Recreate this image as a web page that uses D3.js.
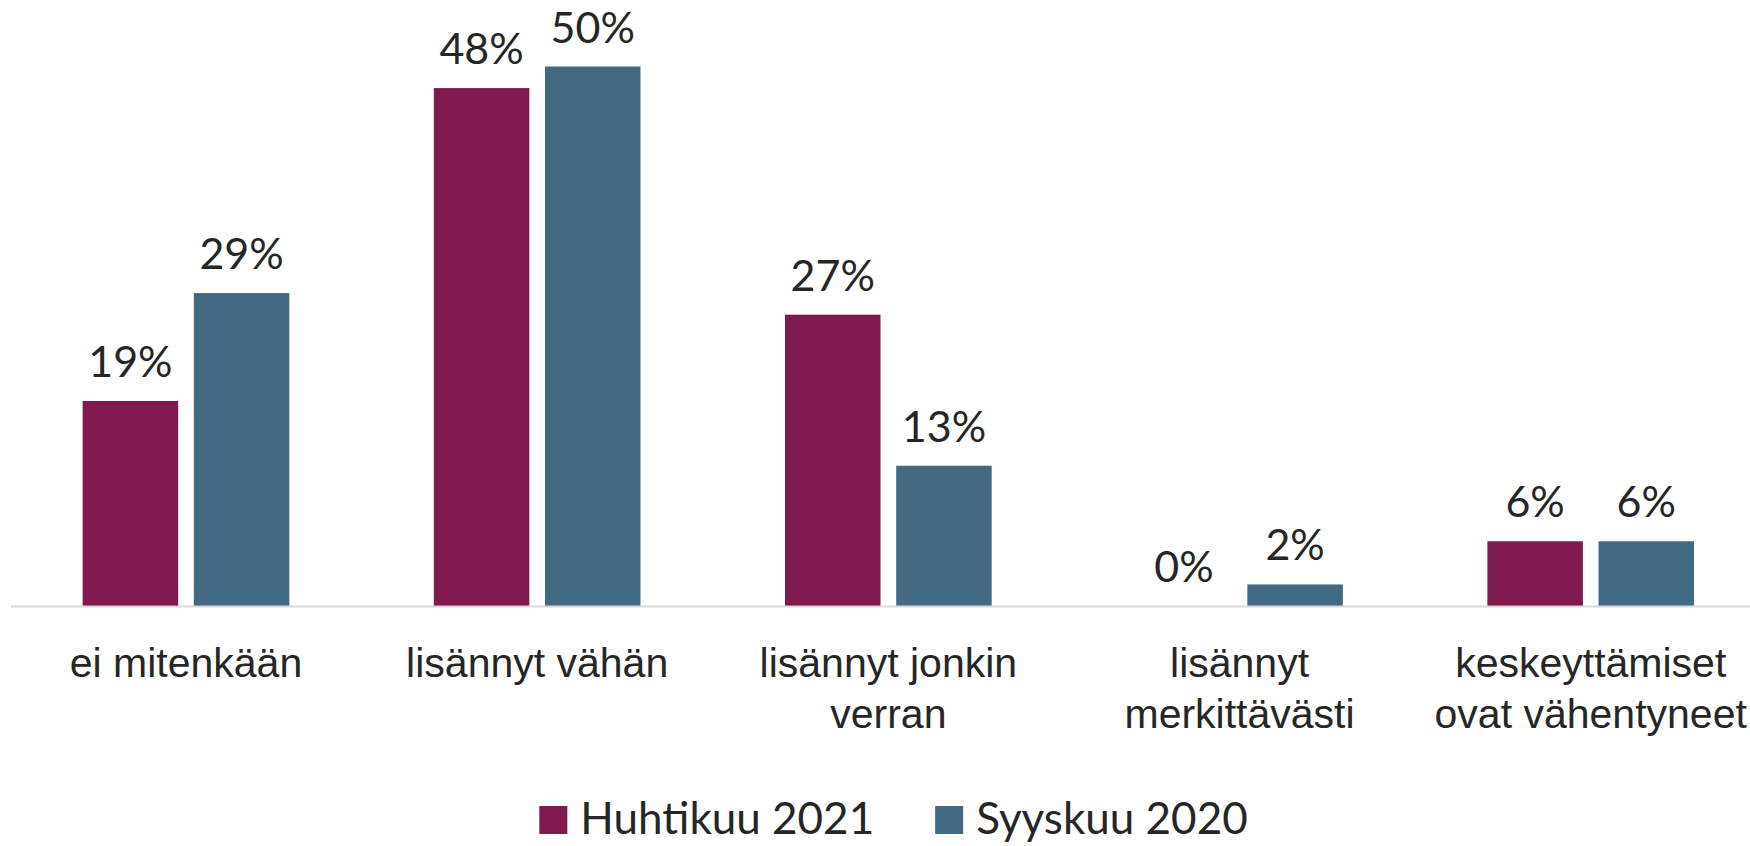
<!DOCTYPE html>
<html>
<head>
<meta charset="utf-8">
<script src="https://cdn.jsdelivr.net/npm/d3@7"></script>
<style>
  html, body { margin: 0; padding: 0; background: #fff; }
  svg { display: block; font-family: Lato, "Open Sans", sans-serif; }
</style>
</head>
<body>
<svg width="1750" height="846"></svg>
<script>
// chart values
let categories = [
    "ei mitenkään",
    "lisännyt vähän",
    "lisännyt jonkin\nverran",
    "lisännyt\nmerkittävästi",
    "keskeyttämiset\novat vähentyneet"
];
let seriesNames = ["Huhtikuu 2021", "Syyskuu 2020"];
let huhtikuu2021 = [19, 48, 27, 0, 6];
let syyskuu2020 = [29, 50, 13, 2, 6];
let colors = ["#7f194e", "#426a83"];

let data = categories.map((c, i) => ({
    category: c,
    values: [
        {series: seriesNames[0], value: huhtikuu2021[i]},
        {series: seriesNames[1], value: syyskuu2020[i]}
    ]
}));

let svg = d3.select("svg"),
    baseY = 606,
    textColor = "#262626";

let x0 = d3.scaleBand()
    .domain(categories)
    .range([10.4, 1766.3])
    .paddingInner(0.4115)
    .paddingOuter(0.4115 / 2);

let x1 = d3.scaleBand()
    .domain(seriesNames)
    .range([0, x0.bandwidth()])
    .paddingInner(0.141)
    .paddingOuter(0);

let y = d3.scaleLinear()
    .domain([0, 50])
    .range([baseY, 66.5]);

let color = d3.scaleOrdinal().domain(seriesNames).range(colors);

// bars
let groups = svg.append("g")
    .attr("class", "bars")
    .selectAll("g")
    .data(data)
    .join("g")
    .attr("transform", d => "translate(" + x0(d.category) + ",0)");

groups.selectAll("rect")
    .data(d => d.values)
    .join("rect")
    .attr("x", d => x1(d.series))
    .attr("y", d => y(d.value))
    .attr("width", x1.bandwidth())
    .attr("height", d => baseY - y(d.value))
    .attr("fill", d => color(d.series));

groups.selectAll("text")
    .data(d => d.values)
    .join("text")
    .attr("x", d => x1(d.series) + x1.bandwidth() / 2)
    .attr("y", d => y(d.value) - 24)
    .attr("text-anchor", "middle")
    .attr("font-size", 43)
    .attr("fill", textColor)
    .text(d => d.value + "%");

// category axis
let xAxis = svg.append("g")
    .attr("class", "axis axis--x")
    .attr("transform", "translate(0," + baseY + ")")
    .call(d3.axisBottom(x0).tickSize(0).tickSizeOuter(0));

xAxis.select(".domain")
    .attr("stroke", "#d9d9d9")
    .attr("stroke-width", 2);

xAxis.selectAll(".tick text").remove();
xAxis.selectAll(".tick").append("text")
    .attr("fill", textColor)
    .attr("font-size", 41)
    .attr("text-anchor", "middle")
    .attr("y", 71)
    .each(function (d) {
        let t = d3.select(this);
        d.split("\n").forEach((line, i) => {
            t.append("tspan")
                .attr("x", 0)
                .attr("dy", i === 0 ? 0 : 51)
                .text(line);
        });
    });

// legend
let legend = svg.append("g").attr("class", "legend");
let items = legend.selectAll("g")
    .data(seriesNames)
    .join("g");

items.append("rect")
    .attr("width", 28)
    .attr("height", 28)
    .attr("y", -28)
    .attr("fill", d => color(d));

items.append("text")
    .attr("x", 41)
    .attr("font-size", 44)
    .attr("fill", textColor)
    .text(d => d);

let offset = 0;
items.each(function () {
    let g = d3.select(this);
    g.attr("transform", "translate(" + offset + ",0)");
    offset += 41 + g.select("text").node().getComputedTextLength() + 61;
});
let legendWidth = offset - 61;
legend.attr("transform", "translate(" + (893.5 - legendWidth / 2) + ",834)");
</script>
</body>
</html>
